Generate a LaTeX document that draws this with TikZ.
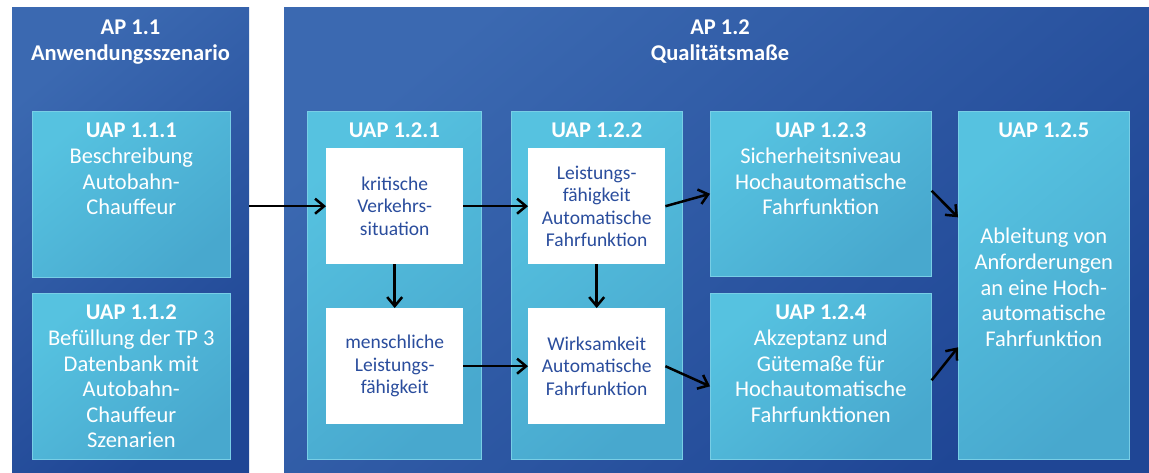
\documentclass[tikz,border=0pt]{standalone}
\usepackage{fontspec}
\setmainfont{Carlito}
\usetikzlibrary{arrows.meta,positioning,calc}
\definecolor{panelA}{HTML}{3B69B1}
\definecolor{panelB}{HTML}{1F4695}
\definecolor{boxA}{HTML}{56C2E0}
\definecolor{boxB}{HTML}{48A8CE}
\definecolor{txtblue}{HTML}{2A4D9D}
\begin{document}
\begin{tikzpicture}[x=1pt,y=-1pt,
  panel/.style={draw=none,shading=axis,top color=panelA,bottom color=panelB,shading angle=40,anchor=north west,inner sep=0pt,minimum width=#1},
  lbox/.style={draw=boxA!80!white,line width=0.6pt,shading=axis,top color=boxA,bottom color=boxB,shading angle=40,anchor=north west,inner sep=0pt},
  wbox/.style={fill=white,draw=none,anchor=north west,inner sep=0pt,minimum width=137pt,minimum height=116pt},
  ltext/.style={text=white,align=center,inner sep=0pt,anchor=north,font=\fontsize{22.5}{25.6}\selectfont},
  wtext/.style={text=txtblue,align=center,inner sep=0pt,font=\fontsize{19.5}{22.4}\selectfont},
  ttext/.style={text=white,align=center,inner sep=0pt,anchor=north,font=\bfseries\fontsize{22.5}{25.6}\selectfont},
  arr/.style={line width=2.5pt,-{Straight Barb[length=9pt,width=15pt,line width=2.5pt]}}
]
\useasboundingbox (0,0) rectangle (1149,472);
% panels
\node[panel=237pt,minimum height=465pt] (p1) at (12,7) {};
\node[panel=865pt,minimum height=465pt] (p2) at (284,7) {};
\node[ttext] (t1) at (130.5,20) {AP 1.1\\Anwendungsszenario};
\node[ttext] (t2) at (720,20) {AP 1.2\\Qualitätsmaße};
% light boxes
\node[lbox,minimum width=198pt,minimum height=166pt] (u111) at (32,111) {};
\node[lbox,minimum width=198pt,minimum height=166pt] (u112) at (32,293) {};
\node[lbox,minimum width=174pt,minimum height=348pt] (u121) at (307,111) {};
\node[lbox,minimum width=171pt,minimum height=348pt] (u122) at (511,111) {};
\node[lbox,minimum width=221pt,minimum height=165pt] (u123) at (710,111) {};
\node[lbox,minimum width=221pt,minimum height=166pt] (u124) at (710,293) {};
\node[lbox,minimum width=171pt,minimum height=348pt] (u125) at (958,111) {};
% white boxes
\node[wbox] (kr) at (326,148) {};
\node[wbox] (me) at (326,308) {};
\node[wbox] (lf) at (528,148) {};
\node[wbox] (wi) at (528,308) {};
% texts
\node[ltext] (x111) at ([yshift=-12pt]u111.north) {\textbf{UAP 1.1.1}\\Beschreibung\\Autobahn-\\Chauffeur};
\node[ltext] (x112) at ([yshift=-12pt]u112.north) {\textbf{UAP 1.1.2}\\Befüllung der TP 3\\Datenbank mit\\Autobahn-\\Chauffeur\\Szenarien};
\node[ltext] (x121) at ([yshift=-12pt]u121.north) {\textbf{UAP 1.2.1}};
\node[ltext] (x122) at ([yshift=-12pt]u122.north) {\textbf{UAP 1.2.2}};
\node[ltext] (x123) at ([yshift=-12pt]u123.north) {\textbf{UAP 1.2.3}\\Sicherheitsniveau\\Hochautomatische\\Fahrfunktion};
\node[ltext] (x124) at ([yshift=-12pt]u124.north) {\textbf{UAP 1.2.4}\\Akzeptanz und\\Gütemaße für\\Hochautomatische\\Fahrfunktionen};
\node[ltext] (x125) at ([yshift=-12pt]u125.north) {\textbf{UAP 1.2.5}};
\node[ltext,anchor=center] (y125) at ([yshift=-2pt]u125.center) {Ableitung von\\Anforderungen\\an eine Hoch-\\automatische\\Fahrfunktion};
\node[wtext] (xkr) at (kr.center) {kritische\\Verkehrs-\\situation};
\node[wtext] (xme) at (me.center) {menschliche\\Leistungs-\\fähigkeit};
\node[wtext] (xlf) at (lf.center) {Leistungs-\\fähigkeit\\Automatische\\Fahrfunktion};
\node[wtext] (xwi) at (wi.center) {Wirksamkeit\\Automatische\\Fahrfunktion};
% arrows
\draw[arr] (p1.east |- kr.west) -- (kr.west);
\draw[arr] (kr.east) -- (lf.west);
\draw[arr] (kr.south) -- (me.north);
\draw[arr] (lf.south) -- (wi.north);
\draw[arr] (me.east) -- (wi.west);
\draw[arr] (lf.east) -- (u123.west);
\draw[arr] (wi.east) -- ([yshift=-10pt]u124.west);
\draw[arr] ([yshift=3pt]u123.east) -- ([yshift=68pt]u125.west);
\draw[arr] ([yshift=-4pt]u124.east) -- ([yshift=-62pt]u125.west);
\end{tikzpicture}
\end{document}
